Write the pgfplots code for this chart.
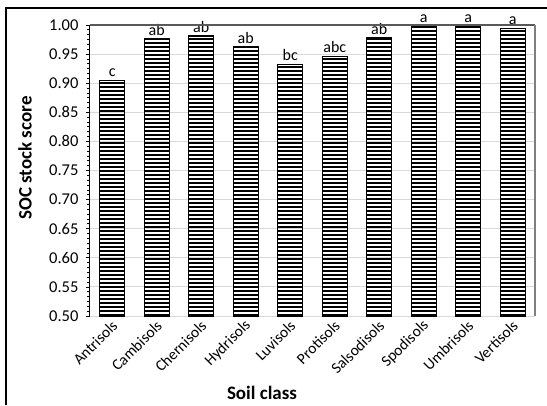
\documentclass[border=0pt]{standalone}
\usepackage{pgfplots}
\pgfplotsset{compat=1.18}
\usepackage{pgfplotstable}
\usepackage{fontspec}
\setmainfont{Carlito}
\usetikzlibrary{patterns}

\definecolor{gridgray}{HTML}{D9D9D9}
\definecolor{boxtop}{HTML}{595959}
\definecolor{boxright}{HTML}{7F7F7F}

% dense horizontal stripes used as bar fill
\pgfdeclarepatternformonly{thickhlines}{\pgfpoint{0pt}{0pt}}{\pgfpoint{4.3pt}{4.3pt}}{\pgfpoint{4.3pt}{4.3pt}}{%
  \pgfsetlinewidth{2.1pt}%
  \pgfpathmoveto{\pgfpoint{-1pt}{1.05pt}}%
  \pgfpathlineto{\pgfpoint{5.3pt}{1.05pt}}%
  \pgfusepath{stroke}}

\pgfplotstableread{
x y lab
0 0.905 c
1 0.976 ab
2 0.981 ab
3 0.962 ab
4 0.932 bc
5 0.946 abc
6 0.978 ab
7 0.997 a
8 0.997 a
9 0.994 a
}\soc

\begin{document}
\begin{tikzpicture}
\path[use as bounding box] (0,0) rectangle (547pt,-405pt);
\draw[line width=1.4pt] (6pt,-405pt) -- (6pt,-8pt) -- (547pt,-8pt);
\begin{axis}[
  name=ax,
  at={(90pt,-316pt)}, anchor=south west,
  scale only axis, width=445pt, height=291pt,
  % bars rise from the 0.50 baseline
  y coord trafo/.code={\pgfmathparse{#1-0.5}},
  y coord inv trafo/.code={\pgfmathparse{#1+0.5}},
  xmin=-0.5, xmax=9.5, ymin=0.5, ymax=1.0,
  axis x line*=bottom, axis y line*=left,
  x axis line style={draw=gridgray, line width=1pt},
  y axis line style={draw=black, line width=1pt},
  xtick={0,...,9},
  xticklabels={Antrisols,Cambisols,Chernisols,Hydrisols,Luvisols,Protisols,Salsodisols,Spodisols,Umbrisols,Vertisols},
  x tick style={draw=none},
  x tick label style={rotate=45, anchor=east, font=\fontsize{15.5}{17}\selectfont, xshift=3pt, yshift=-4pt},
  ytick={0.50,0.55,0.60,0.65,0.70,0.75,0.80,0.85,0.90,0.95,1.00},
  yticklabels={0.50,0.55,0.60,0.65,0.70,0.75,0.80,0.85,0.90,0.95,1.00},
  minor y tick num=5,
  y tick style={black, line width=0.8pt},
  tick align=outside,
  major tick length=4pt, minor tick length=3pt,
  ymajorgrids, major grid style={draw=gridgray, line width=0.9pt},
  y tick label style={font=\fontsize{16.5}{18}\selectfont, xshift=-4pt},
  ylabel={\textbf{SOC stock score}},
  ylabel style={font=\fontsize{19}{21}\selectfont, at={(axis description cs:-0.146,0.543)}, anchor=center},
  xlabel={\textbf{Soil class}},
  xlabel style={font=\fontsize{19}{21}\selectfont, at={(axis description cs:0.3865,-0.265)}, anchor=center},
  ybar, bar width=25pt,
]
\addplot[draw=black, line width=1.3pt, pattern=thickhlines,
  nodes near coords, point meta=explicit symbolic,
  nodes near coords style={font=\fontsize{16}{18}\selectfont, inner sep=3pt, black}]
  table[x=x, y=y, meta=lab] {\soc};
\end{axis}
\draw[boxtop, line width=1.3pt] (ax.north west) -- (ax.north east);
\draw[boxright, line width=1.3pt] (ax.north east) -- (ax.south east);
\end{tikzpicture}
\end{document}
